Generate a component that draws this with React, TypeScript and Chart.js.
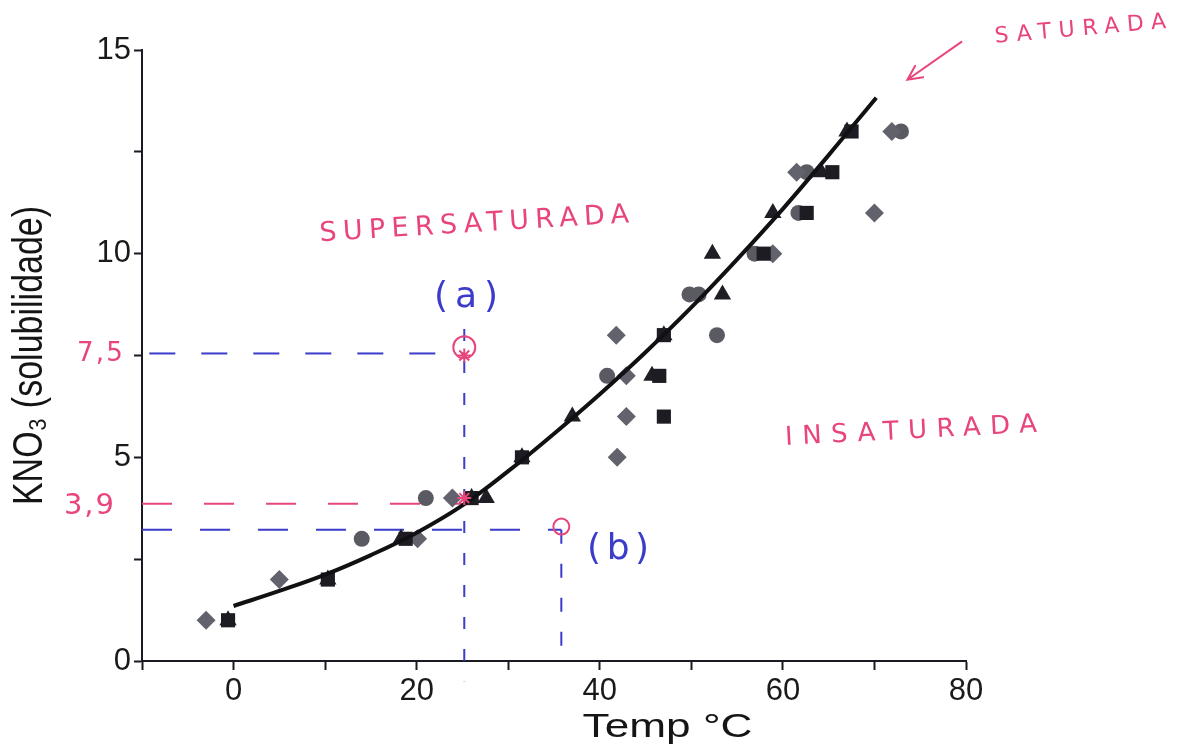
import React, { useEffect, useRef } from 'react';
import { Chart, registerables } from 'chart.js';

Chart.register(...registerables);

// ---- data (°C, solubility) ----
const circlePts = [[14, 3], [21, 4], [40.8, 7], [49.8, 9], [50.8, 9], [52.8, 8], [56.9, 10], [61.7, 11], [62.6, 12], [72.9, 13]];
const diamondPts = [[-3, 1], [5, 2], [20.1, 3], [23.9, 4], [41.9, 5], [42.9, 6], [42.9, 7], [41.8, 8], [58.9, 10], [70, 11], [61.5, 12], [71.9, 13]];
const squarePts = [[-0.6, 1], [10.3, 2], [18.8, 3], [26, 4], [31.5, 5], [47, 6], [46.5, 7], [47, 8], [57.9, 10], [62.6, 11], [65.4, 12], [67.5, 13]];
const trianglePts = [[-0.6, 1], [10.3, 2], [18.3, 3], [26, 4], [27.6, 4], [31.5, 5], [37, 6], [45.7, 7], [47, 8], [53.4, 9], [52.3, 10], [58.9, 11], [64.2, 12], [67, 13]];

// fitted solubility curve
const curveX = [0, 5, 10, 15, 20, 25, 30, 35, 40, 45, 50, 55, 60, 65, 70.2];
const curveY = [1.35, 1.72, 2.12, 2.6, 3.15, 3.82, 4.66, 5.58, 6.55, 7.58, 8.68, 9.86, 11.1, 12.42, 13.83];

// hand-drawn guide lines
const guideA_h = [[-9.2, 7.55], [25.2, 7.55]];
const guideA_v = [[25.2, 8.15], [25.2, -0.5]];
const guideSat_h = [[-10, 3.86], [25.2, 3.86]];
const guideB_h = [[-10, 3.22], [35.8, 3.22]];
const guideB_v = [[35.8, 3.22], [35.8, 0]];
const markA = [[25.2, 7.7]];
const markB = [[35.8, 3.3]];
const starMarks = [[25.2, 7.5], [25.2, 4.0]];

// axis ticks
const xMin = -10, xMax = 80, xStep = 10, xLabelEvery = 20;
const yMin = 0, yMax = 15, yStep = 2.5, yLabelEvery = 5;

const yTitle = 'KNO₃ (solubilidade)';
const xTitle = 'Temp °C';

const PINK = '#e8457a';
const BLUE = '#3b3bcc';

const notes = [
  { text: 'SATURADA', x: 92.5, y: 15.5, size: 22, width: 172, angle: -5, color: PINK },
  { text: 'SUPERSATURADA', x: 26.3, y: 10.71, size: 27, width: 310, angle: -3.5, color: PINK },
  { text: 'INSATURADA', x: 74.0, y: 5.63, size: 26, width: 252, angle: -3, color: PINK },
  { text: '(a)', x: 25.4, y: 8.92, size: 36, width: 64, angle: 0, color: BLUE },
  { text: '(b)', x: 42.0, y: 2.73, size: 36, width: 62, angle: 0, color: BLUE },
  { text: '7,5', x: -14.6, y: 7.52, size: 26, width: 46, angle: 0, color: PINK },
  { text: '3,9', x: -15.8, y: 3.8, size: 29, width: 50, angle: 0, color: PINK },
];
const arrowFrom = [79.5, 15.2];
const arrowTo = [73.6, 14.27];

const toXY = (arr: number[][]) => arr.map(([x, y]) => ({ x, y }));

const drawPlugin = {
  id: 'handNotes',
  afterDatasetsDraw(chart: any) {
    const { ctx, scales: { x, y }, chartArea } = chart;
    ctx.save();
    for (const a of notes) {
      const px = x.getPixelForValue(a.x);
      const py = y.getPixelForValue(a.y);
      ctx.save();
      ctx.translate(px, py);
      ctx.rotate((a.angle * Math.PI) / 180);
      ctx.font = `${a.size}px "DejaVu Sans"`;
      ctx.fillStyle = a.color;
      ctx.textAlign = 'left';
      ctx.textBaseline = 'middle';
      (ctx as any).letterSpacing = '0px';
      const w = ctx.measureText(a.text).width;
      const n = a.text.length;
      const sp = n > 1 ? Math.max(0, (a.width - w) / (n - 1)) : 0;
      (ctx as any).letterSpacing = `${sp}px`;
      ctx.fillText(a.text, -(w + sp * (n - 1)) / 2, 0);
      ctx.restore();
    }
    // arrow
    const x1 = x.getPixelForValue(arrowFrom[0]), y1 = y.getPixelForValue(arrowFrom[1]);
    const x2 = x.getPixelForValue(arrowTo[0]), y2 = y.getPixelForValue(arrowTo[1]);
    ctx.strokeStyle = PINK;
    ctx.lineWidth = 2;
    ctx.lineCap = 'round';
    ctx.beginPath();
    ctx.moveTo(x1, y1);
    ctx.lineTo(x2, y2);
    const ang = Math.atan2(y2 - y1, x2 - x1);
    const hl = 16;
    ctx.moveTo(x2 + hl * Math.cos(ang + Math.PI - 0.45), y2 + hl * Math.sin(ang + Math.PI - 0.45));
    ctx.lineTo(x2, y2);
    ctx.lineTo(x2 + hl * Math.cos(ang + Math.PI + 0.45), y2 + hl * Math.sin(ang + Math.PI + 0.45));
    ctx.stroke();

    // axis titles
    ctx.fillStyle = '#151515';
    ctx.textAlign = 'center';
    ctx.textBaseline = 'middle';
    ctx.font = '34px "Liberation Sans"';
    ctx.save();
    ctx.translate(30, (chartArea.top + chartArea.bottom) / 2);
    ctx.rotate(-Math.PI / 2);
    ctx.scale(1, 1.25);
    ctx.fillText(yTitle, 0, 0);
    ctx.restore();
    ctx.save();
    ctx.translate(x.getPixelForValue(47.4), chartArea.bottom + 67);
    ctx.scale(1.3, 1);
    ctx.fillText(xTitle, 0, 0);
    ctx.restore();
    ctx.restore();
  },
};

export default function App() {
  const ref = useRef<HTMLCanvasElement | null>(null);
  useEffect(() => {
    if (!ref.current) return;
    const dash = (data: number[][], color: string, d: number[], clip = true) => ({
      type: 'scatter' as const,
      data: toXY(data),
      showLine: true,
      borderColor: color,
      borderWidth: 2,
      borderDash: d,
      pointRadius: 0,
      clip: clip ? undefined : false,
      order: 5,
    });
    const chart = new Chart(ref.current, {
      type: 'scatter',
      data: {
        datasets: [
          dash(guideA_h, BLUE, [26, 26]),
          dash(guideA_v, BLUE, [12, 20], false),
          dash(guideSat_h, PINK, [30, 32]),
          dash(guideB_h, BLUE, [30, 28]),
          dash(guideB_v, BLUE, [14, 20]),
          {
            data: curveX.map((x, i) => ({ x, y: curveY[i] })),
            showLine: true,
            borderColor: '#111114',
            borderWidth: 4,
            tension: 0.4,
            pointRadius: 0,
            order: 1,
          } as any,
          { data: toXY(diamondPts), pointStyle: 'rectRot', pointRadius: 9.5, backgroundColor: '#62626c', borderWidth: 0, order: 3 },
          { data: toXY(circlePts), pointStyle: 'circle', pointRadius: 8, backgroundColor: '#5a5a62', borderWidth: 0, order: 3 },
          { data: toXY(squarePts), pointStyle: 'rect', pointRadius: 10, backgroundColor: '#1c1c22', borderWidth: 0, order: 2 },
          { data: toXY(trianglePts), pointStyle: 'triangle', pointRadius: 10, backgroundColor: '#1e1e24', borderWidth: 0, order: 2 },
          { data: toXY(markA), pointStyle: 'circle', pointRadius: 11, backgroundColor: 'rgba(0,0,0,0)', borderColor: PINK, borderWidth: 2, order: 0 },
          { data: toXY(markB), pointStyle: 'circle', pointRadius: 8, backgroundColor: 'rgba(0,0,0,0)', borderColor: PINK, borderWidth: 2, order: 0 },
          { data: toXY(starMarks), pointStyle: 'star', pointRadius: 7, backgroundColor: 'rgba(0,0,0,0)', borderColor: PINK, borderWidth: 2, order: 0 },
        ] as any,
      },
      options: {
        animation: false,
        responsive: true,
        maintainAspectRatio: false,
        events: [],
        layout: { padding: { left: 0, top: 50, right: 220, bottom: 0 } },
        plugins: { legend: { display: false }, tooltip: { enabled: false } },
        scales: {
          x: {
            type: 'linear',
            min: xMin,
            max: xMax,
            afterFit: (s: any) => { s.height = 90; },
            border: { display: true, color: '#1a1a22', width: 2 },
            grid: { display: true, drawOnChartArea: false, drawTicks: true, tickLength: 9, tickColor: '#1a1a22', tickWidth: 2 },
            ticks: {
              stepSize: xStep,
              autoSkip: false,
              maxRotation: 0,
              padding: 3,
              color: '#1a1a1a',
              font: { family: 'Liberation Sans', size: 31 },
              callback: (v: any) => (Number(v) % xLabelEvery === 0 ? String(v) : ''),
            },
          },
          y: {
            type: 'linear',
            min: yMin,
            max: yMax,
            afterFit: (s: any) => { s.width = 142; },
            border: { display: true, color: '#1a1a22', width: 2 },
            grid: { display: true, drawOnChartArea: false, drawTicks: true, tickLength: 8, tickColor: '#1a1a22', tickWidth: 2 },
            ticks: {
              stepSize: yStep,
              autoSkip: false,
              padding: 3,
              color: '#1a1a1a',
              font: { family: 'Liberation Sans', size: 31 },
              callback: (v: any) => (Number(v) % yLabelEvery === 0 ? String(v) : ''),
            },
          },
        },
      } as any,
      plugins: [drawPlugin],
    });
    return () => chart.destroy();
  }, []);
  return (
    <div style={{ position: 'fixed', left: 0, top: 0, width: 1186, height: 751, background: '#fff' }}>
      <canvas ref={ref} />
    </div>
  );
}
